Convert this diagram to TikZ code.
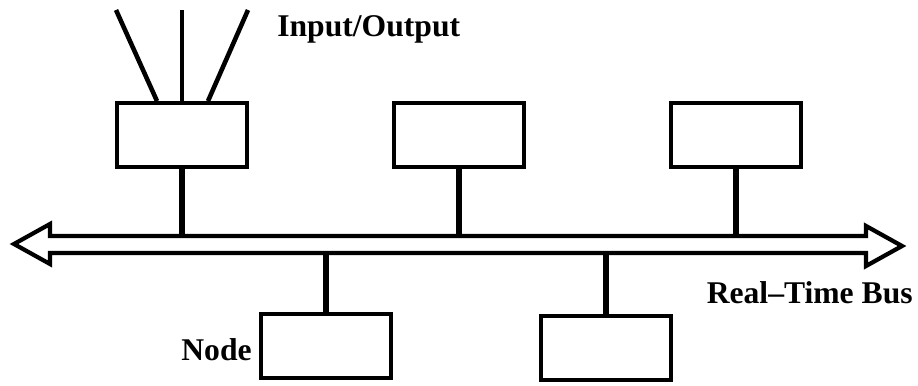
\documentclass[tikz,border=0pt]{standalone}
\usepackage{fontspec}
\setmainfont{Liberation Serif}
\begin{document}
\begin{tikzpicture}[x=0.02cm,y=-0.02cm,
  unit/.style={draw,line width=2.2pt,minimum width=2.6cm,minimum height=1.28cm,inner sep=0pt},
  stub/.style={line width=3.2pt},
  io/.style={line width=2.6pt},
  lbl/.style={font=\bfseries\fontsize{18}{22}\selectfont,inner sep=0pt}]
\useasboundingbox (0,0) rectangle (918,385);
% boxes
\node[unit] (n1) at (182,135) {};
\node[unit] (n2) at (459,135) {};
\node[unit] (n3) at (736,135) {};
\node[unit] (n4) at (326,346) {};
\node[unit] (n5) at (606,348) {};
% bus
\coordinate (b1u) at (182,236);
\coordinate (b2u) at (459,236);
\coordinate (b3u) at (736,236);
\coordinate (b4l) at (326,253);
\coordinate (b5l) at (606,253);
\draw[line width=2.4pt,line join=miter] (14,244) -- (50,224) -- (50,236) -- (866,236) -- (866,226)
  -- (902,246) -- (866,266) -- (866,253) -- (50,253) -- (50,264) -- cycle;
% stubs
\draw[stub] (n1.south) -- (b1u);
\draw[stub] (n2.south) -- (b2u);
\draw[stub] (n3.south) -- (b3u);
\draw[stub] (b4l) -- (n4.north);
\draw[stub] (b5l) -- (n5.north);
% I/O lines
\coordinate (io1) at (116,10);
\coordinate (io2) at (182,10);
\coordinate (io3) at (248,10);
\draw[io] ([xshift=-0.5cm]n1.north) -- (io1);
\draw[io] (n1.north) -- (io2);
\draw[io] ([xshift=0.52cm]n1.north) -- (io3);
% labels
\node[lbl,anchor=west] (tio) at (277,29) {Input/Output};
\node[lbl,anchor=east] (tbus) at (913,293) {Real--Time Bus};
\node[lbl,anchor=east] (tnode) at (252,350) {Node};
\end{tikzpicture}
\end{document}
